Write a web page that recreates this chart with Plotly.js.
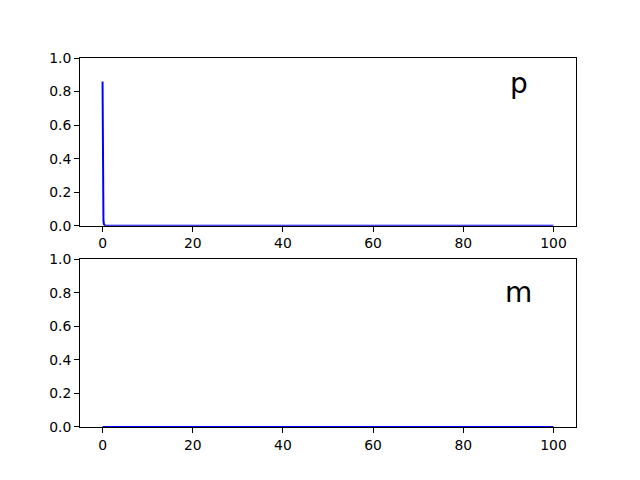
<!DOCTYPE html>
<html><head><meta charset="utf-8">
<script src="https://cdn.plot.ly/plotly-3.0.1.min.js"></script>
<style>body{margin:0;background:#fff}</style>
</head><body>
<div id="chart" style="width:640px;height:480px"></div>
<script>
const xP = [0, 0.05, 0.1, 0.15, 0.2, 0.3, 0.4, 0.5, 1, 2, 5, 10, 20, 50, 100];
const pVals = [0.86, 0.45, 0.14, 0.06, 0.03, 0.01, 0.004, 0.002, 0.0005, 0, 0, 0, 0, 0, 0];
const xM = [0, 1, 10, 50, 100];
const mVals = [0, 0, 0, 0, 0];
const xTicks = [0, 20, 40, 60, 80, 100];
const yTicks = [0, 0.2, 0.4, 0.6, 0.8, 1.0];
const labels = ['p', 'm'];

const axisX = {
  range: [-5, 105], tickvals: xTicks, ticks: 'outside', ticklen: 5, tickwidth: 1, tickcolor: '#000',
  showline: true, mirror: true, linecolor: '#000', linewidth: 1, showgrid: false, zeroline: false,
  tickfont: {family: 'DejaVu Sans', size: 13.9, color: '#000'}
};
const axisY = {
  range: [0, 1], tickvals: yTicks, tickformat: '.1f', ticks: 'outside', ticklen: 5, tickwidth: 1, tickcolor: '#000',
  showline: true, mirror: true, linecolor: '#000', linewidth: 1, showgrid: false, zeroline: false,
  tickfont: {family: 'DejaVu Sans', size: 13.9, color: '#000'}
};

const data = [
  {x: xP, y: pVals, type: 'scatter', mode: 'lines', line: {color: '#0000ff', width: 2}, xaxis: 'x', yaxis: 'y', hoverinfo: 'none'},
  {x: xM, y: mVals, type: 'scatter', mode: 'lines', line: {color: '#0000ff', width: 2}, xaxis: 'x2', yaxis: 'y2', hoverinfo: 'none', cliponaxis: false}
];

const layout = {
  width: 640, height: 480, showlegend: false,
  paper_bgcolor: '#fff', plot_bgcolor: '#fff',
  margin: {l: 80, r: 64, t: 57.6, b: 52.8, pad: 0},
  xaxis: Object.assign({}, axisX, {anchor: 'y', domain: [0, 1]}),
  yaxis: Object.assign({}, axisY, {anchor: 'x', domain: [0.5455, 1]}),
  xaxis2: Object.assign({}, axisX, {anchor: 'y2', domain: [0, 1]}),
  yaxis2: Object.assign({}, axisY, {anchor: 'x2', domain: [0, 0.4545]}),
  annotations: [
    {text: labels[0], xref: 'x domain', yref: 'y domain', x: 0.885, y: 0.845, xanchor: 'center', yanchor: 'middle', showarrow: false, font: {family: 'DejaVu Sans', size: 28, color: '#000'}},
    {text: labels[1], xref: 'x2 domain', yref: 'y2 domain', x: 0.885, y: 0.8, xanchor: 'center', yanchor: 'middle', showarrow: false, font: {family: 'DejaVu Sans', size: 28, color: '#000'}}
  ]
};
Plotly.newPlot('chart', data, layout, {staticPlot: true});
</script>
</body></html>
